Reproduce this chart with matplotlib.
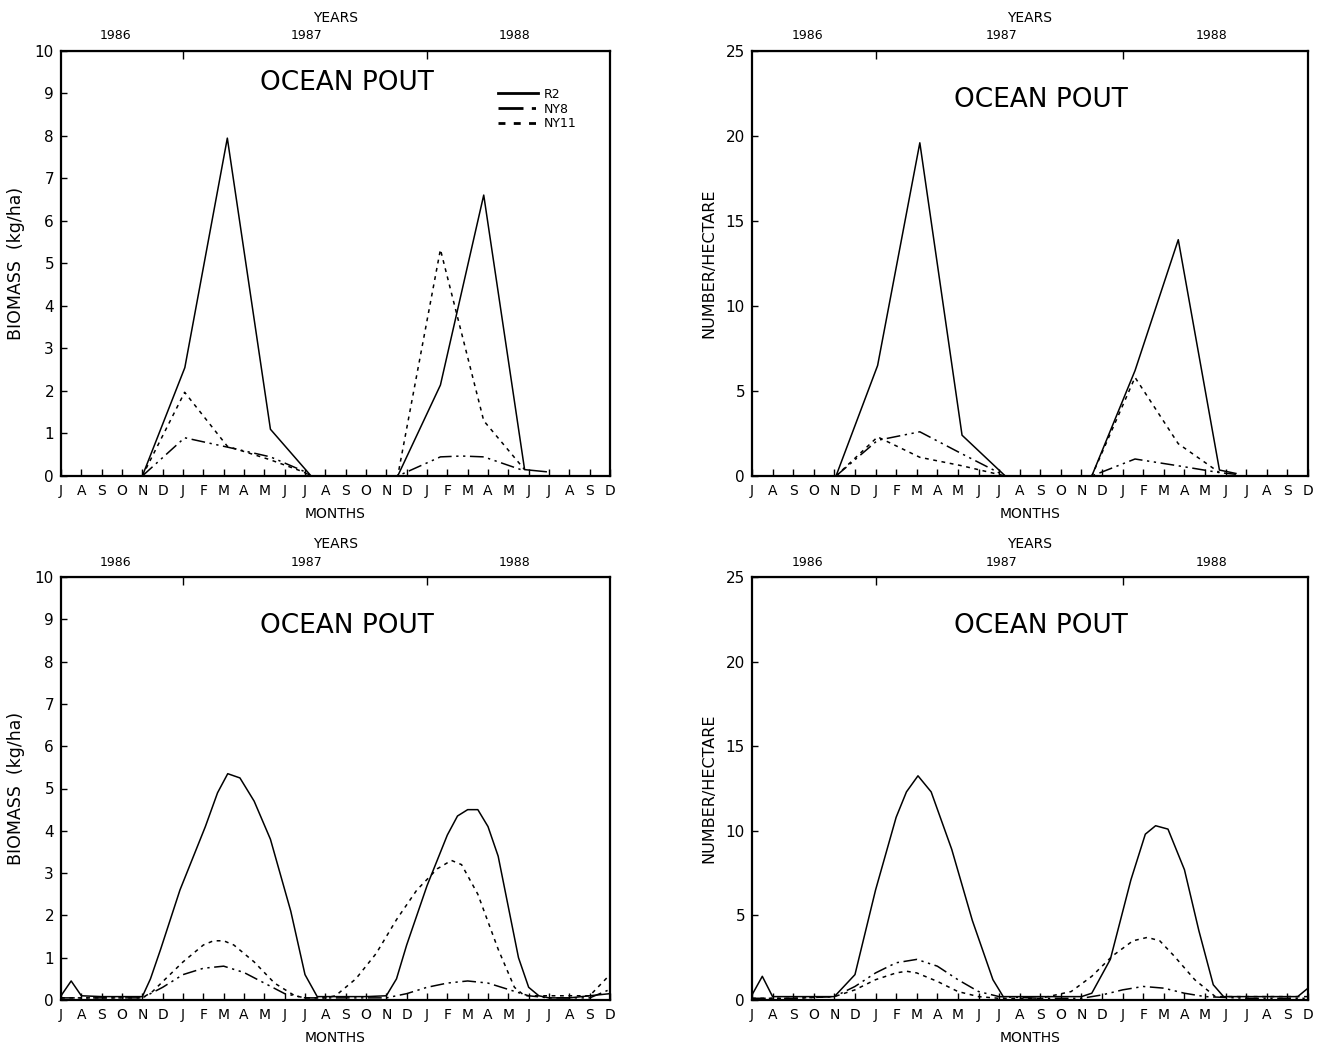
import matplotlib
matplotlib.use("Agg")
import matplotlib.pyplot as plt
from matplotlib.transforms import blended_transform_factory

plt.rcParams['font.family'] = ['DejaVu Sans']

# ---- axis labels / categories ----
month_labels = ["J", "A", "S", "O", "N", "D", "J", "F", "M", "A", "M", "J",
                "J", "A", "S", "O", "N", "D", "J", "F", "M", "A", "M", "J",
                "J", "A", "S", "D"]
year_labels = ["1986", "1987", "1988"]
year_label_pos = [2.7, 12.1, 22.3]
year_ticks = [6, 18]
series_names = ["R2", "NY8", "NY11"]

# ---- top-left: biomass (kg/ha), cruise values (x = months since Jul 1986) ----
tl_r2_x = [0, 2, 4.0, 6.09, 8.18, 10.3, 12.3, 14.4, 16.56, 18.66, 20.79, 22.8, 23.86]
tl_r2_y = [0, 0, 0.0, 2.55, 7.95, 1.10, 0.0, 0.0, 0.0, 2.14, 6.61, 0.15, 0.10]
tl_ny8_x = [4.0, 6.08, 8.18, 10.3, 11.9, 12.3, 16.56, 18.66, 19.7, 20.79, 22.8]
tl_ny8_y = [0.0, 0.90, 0.68, 0.45, 0.12, 0.0, 0.0, 0.45, 0.47, 0.45, 0.12]
tl_ny11_x = [4.0, 6.08, 8.18, 10.3, 11.9, 12.3, 16.56, 18.66, 20.79, 22.8]
tl_ny11_y = [0.0, 1.97, 0.70, 0.38, 0.10, 0.0, 0.0, 5.33, 1.30, 0.15]

# ---- top-right: number/hectare ----
tr_r2_x = [0, 2, 4.08, 6.1, 8.15, 10.2, 12.3, 14.4, 16.5, 18.6, 20.7, 22.7, 23.5]
tr_r2_y = [0, 0, 0.0, 6.5, 19.6, 2.4, 0.0, 0.0, 0.0, 6.2, 13.9, 0.35, 0.15]
tr_ny8_x = [4.08, 6.1, 8.15, 10.2, 12.3, 16.5, 18.6, 20.7, 22.7, 23.5]
tr_ny8_y = [0.0, 2.1, 2.6, 1.3, 0.0, 0.0, 1.0, 0.6, 0.2, 0.1]
tr_ny11_x = [4.08, 6.1, 8.15, 10.2, 12.3, 16.5, 18.6, 20.7, 22.7]
tr_ny11_y = [0.0, 2.3, 1.1, 0.6, 0.0, 0.0, 5.8, 1.9, 0.2]

# ---- bottom-left: smoothed biomass ----
bl_r2_x = [0, 0.5, 1, 2, 3, 4, 4.4, 4.9, 5.85, 6.6, 7.1, 7.7, 8.2, 8.8, 9.5, 10.3, 11.3,
           12.0, 12.6, 13, 14, 15, 16, 16.5, 17, 17.5, 18, 18.5, 19, 19.5, 20, 20.5, 21,
           21.5, 22, 22.5, 23, 23.5, 24, 25, 26, 27]
bl_r2_y = [0.1, 0.45, 0.1, 0.08, 0.08, 0.08, 0.5, 1.2, 2.6, 3.5, 4.1, 4.9, 5.35, 5.25,
           4.7, 3.8, 2.1, 0.6, 0.08, 0.08, 0.08, 0.08, 0.1, 0.5, 1.3, 2.0, 2.7, 3.3, 3.9,
           4.35, 4.5, 4.5, 4.1, 3.4, 2.2, 1.0, 0.3, 0.1, 0.05, 0.05, 0.1, 0.15]
bl_ny8_x = [0, 2, 4, 5, 6, 7, 8, 9, 10, 11, 12, 14, 16, 17, 18, 19, 20, 21, 22, 23, 24, 26, 27]
bl_ny8_y = [0.05, 0.05, 0.05, 0.3, 0.6, 0.75, 0.8, 0.65, 0.4, 0.15, 0.05, 0.05, 0.05, 0.15,
            0.3, 0.4, 0.45, 0.4, 0.25, 0.1, 0.05, 0.05, 0.25]
bl_ny11_x = [0, 2, 4, 4.5, 6, 7, 7.5, 8, 8.5, 9.5, 10.5, 11.5, 12, 13, 13.5, 14.5, 15.5,
             16.5, 17.5, 18.5, 19.2, 19.7, 20.5, 21.5, 22.3, 22.8, 24, 26, 27]
bl_ny11_y = [0.05, 0.05, 0.05, 0.2, 0.9, 1.3, 1.4, 1.4, 1.3, 0.9, 0.4, 0.1, 0.05, 0.05,
             0.1, 0.5, 1.1, 1.9, 2.6, 3.1, 3.3, 3.2, 2.5, 1.2, 0.3, 0.1, 0.1, 0.1, 0.6]

# ---- bottom-right: smoothed number/hectare ----
br_r2_x = [0, 0.5, 1, 2, 3, 4, 5, 6, 7, 7.5, 8.06, 8.7, 9.7, 10.7, 11.7, 12.2, 13, 14, 15,
           16, 16.5, 17.4, 18.4, 19.1, 19.6, 20.2, 21.0, 21.7, 22.4, 22.9, 24, 25, 26, 26.5, 27]
br_r2_y = [0.3, 1.4, 0.2, 0.2, 0.2, 0.2, 1.5, 6.5, 10.8, 12.3, 13.25, 12.3, 8.9, 4.7, 1.2,
           0.2, 0.2, 0.2, 0.2, 0.2, 0.4, 2.4, 7.1, 9.8, 10.3, 10.1, 7.7, 4.1, 0.9, 0.2, 0.2,
           0.2, 0.2, 0.2, 0.7]
br_ny8_x = [0, 2, 4, 5, 6, 7, 8, 9, 10, 11, 12, 14, 16, 17, 18, 19, 20, 21, 22, 24, 27]
br_ny8_y = [0.1, 0.1, 0.2, 0.8, 1.6, 2.2, 2.4, 2.0, 1.2, 0.5, 0.2, 0.1, 0.1, 0.3, 0.6, 0.8,
            0.7, 0.4, 0.2, 0.1, 0.1]
br_ny11_x = [0, 2, 4, 5, 6, 7, 7.5, 8, 9, 10, 11, 12, 14, 15.5, 16.5, 17.5, 18.5, 19.2,
             19.8, 20.5, 21.5, 22.5, 24, 27]
br_ny11_y = [0.1, 0.1, 0.2, 0.6, 1.2, 1.6, 1.7, 1.6, 1.1, 0.5, 0.2, 0.1, 0.1, 0.5, 1.4,
             2.6, 3.5, 3.7, 3.5, 2.6, 1.2, 0.2, 0.2, 0.2]

styles = {
    "R2": dict(color="black", lw=1.1, linestyle="-"),
    "NY8": dict(color="black", lw=1.1, linestyle=(0, (9, 3, 1.5, 3, 1.5, 3))),
    "NY11": dict(color="black", lw=1.1, linestyle=(0, (2.5, 3))),
}

fig = plt.figure(figsize=(13.21, 10.48), dpi=100)

W, H = 1321.0, 1048.0
def axes_px(l, t, r, b):
    return fig.add_axes([l / W, 1 - b / H, (r - l) / W, (b - t) / H])

panels = [
    (axes_px(61, 51, 610, 476), 10, list(range(0, 11)), "BIOMASS  (kg/ha)", 12.5,
     [(tl_r2_x, tl_r2_y), (tl_ny8_x, tl_ny8_y), (tl_ny11_x, tl_ny11_y)], True),
    (axes_px(752, 51, 1308, 476), 25, [0, 5, 10, 15, 20, 25], "NUMBER/HECTARE", 11.5,
     [(tr_r2_x, tr_r2_y), (tr_ny8_x, tr_ny8_y), (tr_ny11_x, tr_ny11_y)], False),
    (axes_px(61, 577, 610, 1000), 10, list(range(0, 11)), "BIOMASS  (kg/ha)", 12.5,
     [(bl_r2_x, bl_r2_y), (bl_ny8_x, bl_ny8_y), (bl_ny11_x, bl_ny11_y)], False),
    (axes_px(752, 577, 1308, 1000), 25, [0, 5, 10, 15, 20, 25], "NUMBER/HECTARE", 11.5,
     [(br_r2_x, br_r2_y), (br_ny8_x, br_ny8_y), (br_ny11_x, br_ny11_y)], False),
]

for ax, ymax, yticks, ylabel, ylsize, series, legend in panels:
    for name, (xs, ys) in zip(series_names, series):
        ax.plot(xs, ys, label=name, clip_on=False, **styles[name])
    ax.set_xlim(0, 27)
    ax.set_ylim(0, ymax)
    ax.set_xticks(range(len(month_labels)))
    ax.set_xticklabels(month_labels, fontsize=10)
    ax.set_yticks(yticks)
    ax.set_yticklabels([str(v) for v in yticks], fontsize=11)
    ax.tick_params(axis="x", direction="in", length=5, width=1, pad=6)
    ax.tick_params(axis="y", direction="in", length=4, width=1, pad=5)
    for sp in ax.spines.values():
        sp.set_linewidth(1.6)
    ax.set_xlabel("MONTHS", fontsize=10, labelpad=6)
    ax.set_ylabel(ylabel, fontsize=ylsize, labelpad=7)
    # top "YEARS" axis
    top = ax.secondary_xaxis("top")
    top.set_xticks(year_ticks)
    top.set_xticklabels(["", ""])
    top.tick_params(direction="in", length=6, width=1)
    tr = blended_transform_factory(ax.transData, ax.transAxes)
    for lab, pos in zip(year_labels, year_label_pos):
        ax.text(pos, 1.02, lab, transform=tr, ha="center", va="bottom", fontsize=9)
    ax.text(0.5, 1.062, "YEARS", transform=ax.transAxes, ha="center", va="bottom", fontsize=10)
    ax.text(0.52, 0.925 if legend else 0.885, "OCEAN POUT", transform=ax.transAxes,
            ha="center", va="center", fontsize=19)
    if legend:
        leg = ax.legend(loc="upper right", bbox_to_anchor=(0.96, 0.94), frameon=False,
                        fontsize=9, handlelength=3.2, handletextpad=0.5, labelspacing=0.15)
        for ln in leg.get_lines():
            ln.set_linewidth(2.0)

fig.savefig("out.png", dpi=100)
